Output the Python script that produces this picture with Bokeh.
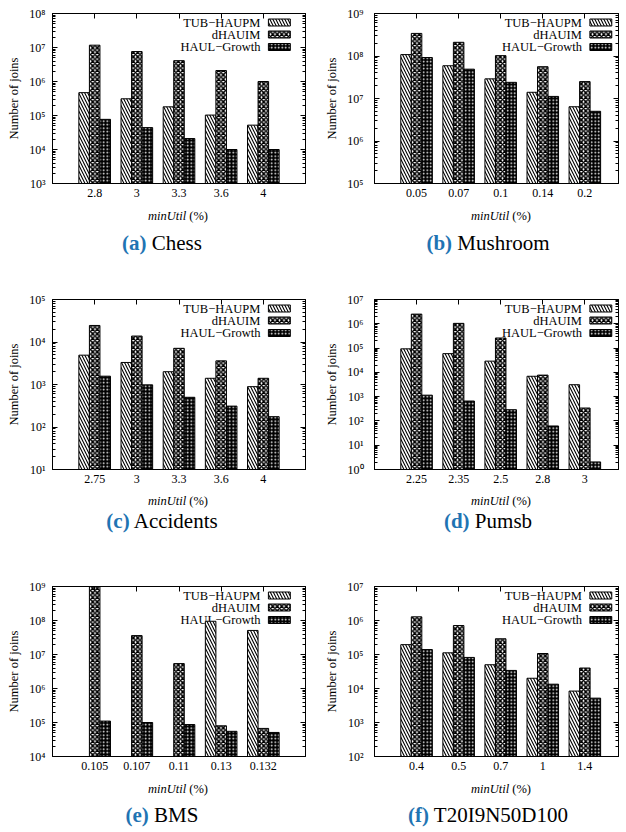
import math
from bokeh.plotting import figure
from bokeh.models import (FixedTicker, LinearAxis, LogAxis, CustomJSTickFormatter,
                          ColumnDataSource, Range1d, Div)
from bokeh.layouts import column, row
from bokeh.embed import file_html
from bokeh.resources import INLINE
from bokeh.core.properties import value

# ---------------- data ----------------
series = ["TUB\u2212HAUPM", "dHAUIM", "HAUL\u2212Growth"]

chess_x = ["2.8", "3", "3.3", "3.6", "4"]
chess_tub = [4.7e5, 3.1e5, 1.8e5, 1.03e5, 5.2e4]
chess_dhauim = [1.17e7, 7.6e6, 4.1e6, 2.1e6, 1.0e6]
chess_haul = [7.7e4, 4.4e4, 2.1e4, 1.0e4, 1.0e4]

mush_x = ["0.05", "0.07", "0.1", "0.14", "0.2"]
mush_tub = [1.08e8, 5.9e7, 2.9e7, 1.4e7, 6.4e6]
mush_dhauim = [3.4e8, 2.1e8, 1.02e8, 5.6e7, 2.5e7]
mush_haul = [9.2e7, 4.9e7, 2.4e7, 1.12e7, 5.0e6]

acc_x = ["2.75", "3", "3.3", "3.6", "4"]
acc_tub = [4.9e3, 3.3e3, 2.0e3, 1.4e3, 890]
acc_dhauim = [2.45e4, 1.38e4, 7.1e3, 3.6e3, 1.4e3]
acc_haul = [1.57e3, 980, 500, 310, 175]

pumsb_x = ["2.25", "2.35", "2.5", "2.8", "3"]
pumsb_tub = [9.3e4, 5.9e4, 2.9e4, 6.9e3, 3.1e3]
pumsb_dhauim = [2.5e6, 1.04e6, 2.6e5, 7.7e3, 340]
pumsb_haul = [1.15e3, 660, 290, 62, 2.05]

bms_x = ["0.105", "0.107", "0.11", "0.13", "0.132"]
bms_tub = [None, None, None, 9.5e7, 5.1e7]
bms_dhauim = [1.0e9, 3.6e7, 5.4e6, 8.0e4, 6.7e4]
bms_haul = [1.1e5, 1.0e5, 8.7e4, 5.5e4, 5.1e4]

t20_x = ["0.4", "0.5", "0.7", "1", "1.4"]
t20_tub = [1.95e5, 1.12e5, 5.0e4, 2.0e4, 8.4e3]
t20_dhauim = [1.28e6, 7.1e5, 2.9e5, 1.07e5, 4.0e4]
t20_haul = [1.4e5, 8.2e4, 3.4e4, 1.34e4, 5.2e3]

# ---------------- style ----------------
FONT = "Liberation Serif"
FH = 170
BW = 0.25
STYLES = [
    dict(fill_color="white", hatch_pattern="left_diagonal_line", hatch_color="black",
         hatch_scale=6, hatch_weight=1.1),
    dict(fill_color="white", hatch_pattern="diagonal_cross", hatch_color="black",
         hatch_scale=4.5, hatch_weight=1.5),
    dict(fill_color="black", hatch_pattern="dot", hatch_color="white",
         hatch_scale=3.5, hatch_weight=1.0),
]
CAP_BLUE = "#1f74b3"

SUP_JS = """
const s = {"0":"\u2070","1":"\u00b9","2":"\u00b2","3":"\u00b3","4":"\u2074","5":"\u2075",
           "6":"\u2076","7":"\u2077","8":"\u2078","9":"\u2079","-":"\u207b"};
const e = Math.round(Math.log10(tick));
return "10" + String(e).split("").map(c => s[c]).join("");
"""


def panel(cats, tub, dh, haul, ylo, yhi, letter, name, col, rw, xl_y, cap_y):
    left = col == 0
    W = 313
    bl = 52 if left else 61
    br = 8
    xend = 5.0 if left else 4.8
    bt = 13 if rw < 2 else 14
    bb = 24
    H = bt + FH + bb
    p = figure(width=W, height=H, x_range=Range1d(-1, xend), y_range=Range1d(ylo, yhi),
               y_axis_type="log", output_backend="svg", toolbar_location=None,
               min_border_left=bl, min_border_right=br, min_border_top=bt,
               min_border_bottom=bb)
    p.xgrid.visible = False
    p.ygrid.visible = False
    p.outline_line_color = "black"
    p.outline_line_width = 1
    p.background_fill_color = "white"
    p.border_fill_color = "white"

    n = len(cats)
    lo, hi = math.log10(ylo), math.log10(yhi)
    decades = [10.0 ** k for k in range(int(round(lo)), int(round(hi)) + 1)]
    minors = [m * 10.0 ** k for k in range(int(round(lo)), int(round(hi))) for m in range(2, 10)]

    def ypx(px):
        return 10 ** (hi - px / FH * (hi - lo))
    rows_px = [9, 21, 33.5]

    # legend texts first (bars may cover them, as in the original)
    for j, lab in enumerate(series):
        p.text(x=[3.93], y=[ypx(rows_px[j])], text=[lab], text_align="right",
               text_baseline="middle", text_font=value(FONT), text_font_size="12.5px",
               text_color="black")

    # bars
    for j, (vals, st) in enumerate(zip([tub, dh, haul], STYLES)):
        xs = [i + (j - 1) * BW for i in range(n)]
        keep = [(x, v) for x, v in zip(xs, vals) if v is not None]
        src = ColumnDataSource(dict(x=[k[0] for k in keep], top=[k[1] for k in keep]))
        p.vbar(x="x", top="top", bottom=ylo, width=BW, source=src,
               line_color="black", line_width=1, **st)

    # legend swatches (right of the texts)
    for j, st in enumerate(STYLES):
        py = rows_px[j]
        p.quad(left=[4.12], right=[4.64], top=[ypx(py - 3.5)], bottom=[ypx(py + 3.5)],
               line_color="black", line_width=1, **st)

    # left axis
    ya = p.yaxis[0]
    ya.ticker = FixedTicker(ticks=decades, minor_ticks=minors)
    ya.formatter = CustomJSTickFormatter(code=SUP_JS)
    ya.major_tick_in = 5
    ya.major_tick_out = 0
    ya.minor_tick_in = 3
    ya.minor_tick_out = 0
    ya.major_label_standoff = 7 if left else 11
    ya.major_label_text_font = FONT
    ya.major_label_text_font_size = "12px"
    ya.major_label_text_color = "black"
    ya.axis_label = "Number of joins"
    ya.axis_label_text_font = FONT
    ya.axis_label_text_font_style = "normal"
    ya.axis_label_text_font_size = "12.5px"
    ya.axis_label_text_color = "black"
    ya.axis_label_standoff = 5
    ya.axis_line_color = "black"

    # right mirror axis (labels invisible)
    ra = LogAxis(ticker=FixedTicker(ticks=decades, minor_ticks=minors),
                 major_label_text_font_size="1px", major_label_text_color=None,
                 major_label_standoff=0,
                 major_tick_in=5, major_tick_out=0, minor_tick_in=3, minor_tick_out=0,
                 axis_line_color="black")
    p.add_layout(ra, "right")

    # bottom axis
    xa = p.xaxis[0]
    xa.ticker = FixedTicker(ticks=list(range(n)), minor_ticks=[])
    xa.formatter = CustomJSTickFormatter(args=dict(labels=cats),
                                         code="return labels[Math.round(tick)];")
    xa.major_tick_in = 0
    xa.major_tick_out = 0
    xa.minor_tick_line_color = None
    xa.major_label_standoff = 5
    xa.major_label_text_font = FONT
    xa.major_label_text_font_size = "12px"
    xa.major_label_text_color = "black"
    xa.axis_line_color = "black"

    # top mirror axis (labels invisible)
    ta = LinearAxis(ticker=FixedTicker(ticks=list(range(n)), minor_ticks=[]),
                    major_label_text_font_size="1px", major_label_text_color=None,
                    major_label_standoff=0,
                    major_tick_in=5, major_tick_out=0, minor_tick_line_color=None,
                    axis_line_color="black")
    p.add_layout(ta, "above")

    # x-axis title and sub-caption below the figure
    row_total = 286 if rw < 2 else 258
    dh_ = row_total - H
    xl_x = 178 if left else 188
    cap_x = 162 if left else 175
    span = ("position:absolute;transform:translate(-50%,-50%);white-space:nowrap;"
            "line-height:1;color:black;font-family:'Liberation Serif',serif;")
    html = (
        f'<div style="position:relative;width:{W}px;height:{dh_}px;">'
        f'<span style="{span}left:{xl_x}px;top:{xl_y}px;font-size:12.5px;">'
        f'<i>minUtil</i> (%)</span>'
        f'<span style="{span}left:{cap_x}px;top:{cap_y}px;font-size:21px;">'
        f'<b style="color:{CAP_BLUE};">({letter})</b> {name}</span>'
        '</div>'
    )
    d = Div(text=html, width=W, height=dh_, margin=0)
    return column(p, d, spacing=0)


pa = panel(chess_x, chess_tub, chess_dhauim, chess_haul, 1e3, 1e8, "a", "Chess", 0, 0, 9, 36)
pb = panel(mush_x, mush_tub, mush_dhauim, mush_haul, 1e5, 1e9, "b", "Mushroom", 1, 0, 9, 36)
pc = panel(acc_x, acc_tub, acc_dhauim, acc_haul, 1e1, 1e5, "c", "Accidents", 0, 1, 8, 28)
pd = panel(pumsb_x, pumsb_tub, pumsb_dhauim, pumsb_haul, 1e0, 1e7, "d", "Pumsb", 1, 1, 8, 28)
pe = panel(bms_x, bms_tub, bms_dhauim, bms_haul, 1e4, 1e9, "e", "BMS", 0, 2, 9, 35)
pf = panel(t20_x, t20_tub, t20_dhauim, t20_haul, 1e2, 1e7, "f", "T20I9N50D100", 1, 2, 9, 35)

layout = column(row(pa, pb, spacing=0), row(pc, pd, spacing=0), row(pe, pf, spacing=0),
                spacing=0)

open("out.html", "w").write(file_html(layout, INLINE))
